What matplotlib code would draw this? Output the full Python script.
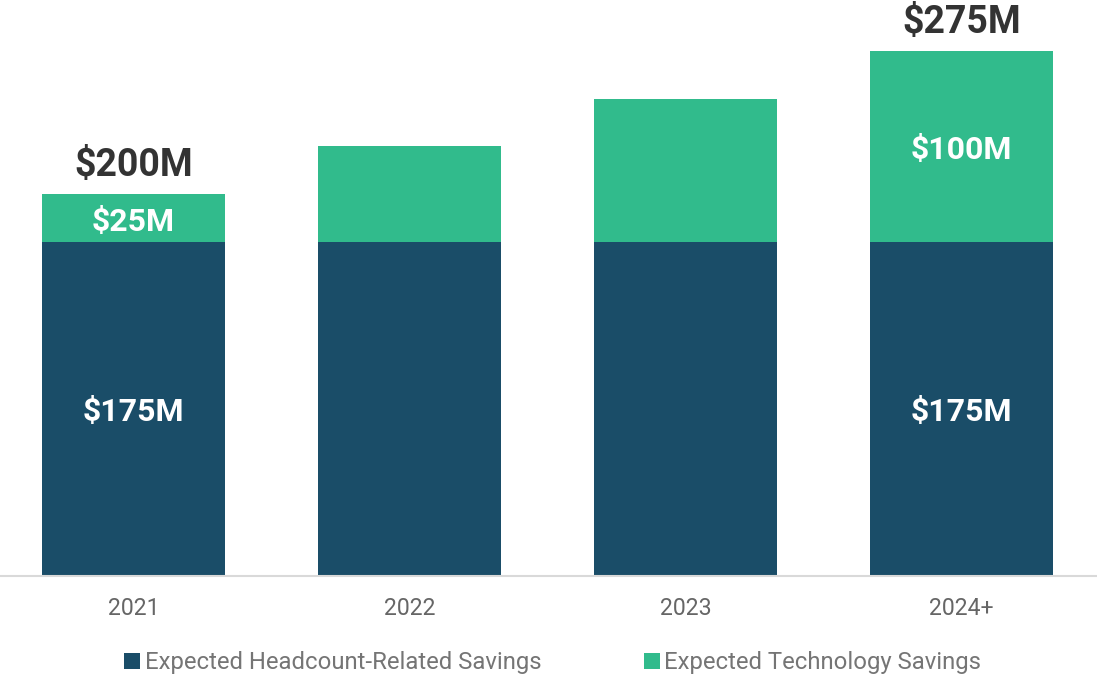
import matplotlib
matplotlib.use("Agg")
import matplotlib.pyplot as plt
from matplotlib.patches import Patch

categories = ["2021", "2022", "2023", "2024+"]
headcount = [175, 175, 175, 175]
technology = [25, 50, 75, 100]
series_names = ["Expected Headcount-Related Savings", "Expected Technology Savings"]
inner_labels_head = ["$175M", None, None, "$175M"]
inner_labels_tech = ["$25M", None, None, "$100M"]
total_labels = ["$200M", None, None, "$275M"]

NAVY = "#1a4d68"
GREEN = "#31bb8c"

plt.rcParams['font.family'] = ['Roboto', 'DejaVu Sans']

fig = plt.figure(figsize=(10.97, 6.76), dpi=100)
ax = fig.add_axes([0, (676 - 576) / 676, 1, 576 / 676])

x = list(range(len(categories)))
w = 0.663
ax.bar(x, headcount, width=w, color=NAVY, label=series_names[0])
ax.bar(x, technology, width=w, bottom=headcount, color=GREEN, label=series_names[1])

ax.set_xlim(-0.4837, 3.491)
ax.set_ylim(0, 301.7)

for i in x:
    if inner_labels_head[i]:
        ax.annotate(inner_labels_head[i], (i, headcount[i] / 2), xytext=(0, -2.5),
                    textcoords='offset points', ha='center', va='center',
                    color='white', fontsize=23, fontweight='bold')
    if inner_labels_tech[i]:
        ax.annotate(inner_labels_tech[i], (i, headcount[i] + technology[i] / 2),
                    xytext=(0, -2.5), textcoords='offset points', ha='center',
                    va='center', color='white', fontsize=23, fontweight='bold')
    if total_labels[i]:
        ax.annotate(total_labels[i], (i, headcount[i] + technology[i]), xytext=(0, 7.5),
                    textcoords='offset points', ha='center', va='bottom',
                    color='#333333', fontsize=27, fontweight='bold')

for s in ['top', 'right', 'left']:
    ax.spines[s].set_visible(False)
ax.spines['bottom'].set_color('#d9d9d9')
ax.spines['bottom'].set_linewidth(1.5)
ax.set_yticks([])
ax.set_xticks(x)
ax.set_xticklabels(categories, fontsize=16.6, color='#666666')
ax.tick_params(axis='x', length=0, pad=15)

handles = [Patch(facecolor=NAVY), Patch(facecolor=GREEN)]
fig.legend(handles, series_names, loc='center', bbox_to_anchor=(0.504, (676 - 663) / 676),
           ncol=2, frameon=False, fontsize=17.2, labelcolor='#757575',
           handlelength=0.65, handleheight=0.65, handletextpad=0.2, columnspacing=4.3)

fig.savefig("out.png", dpi=100)
